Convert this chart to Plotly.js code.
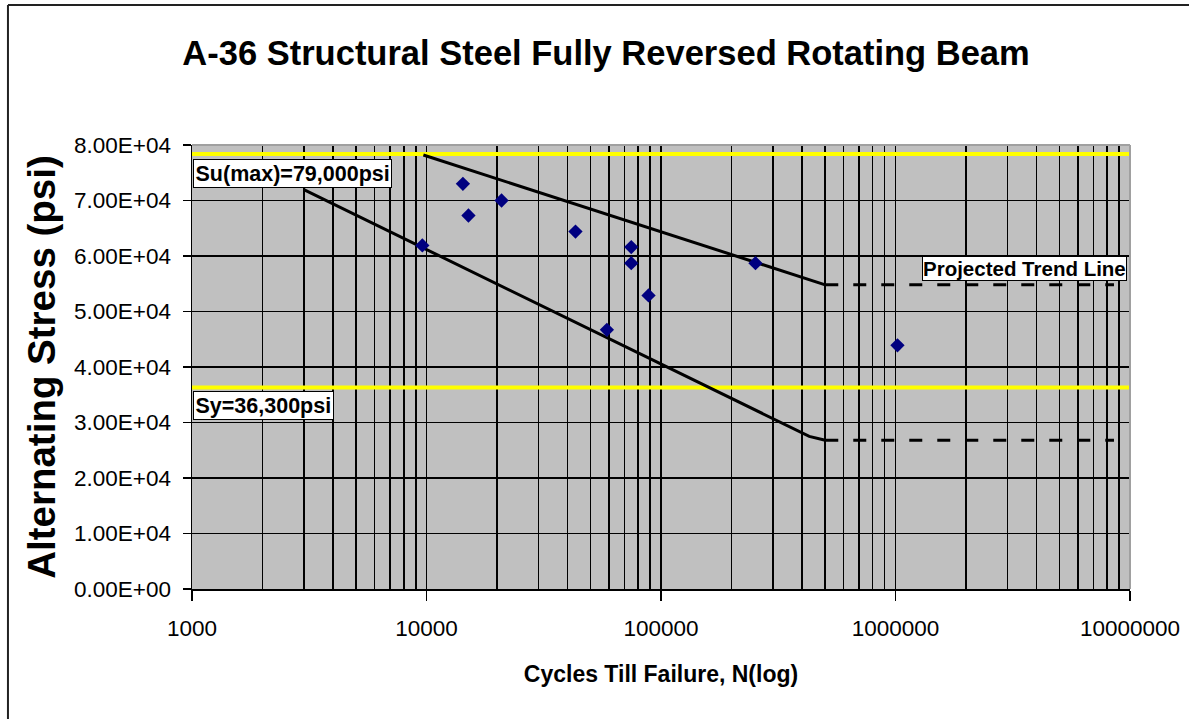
<!DOCTYPE html>
<html><head><meta charset="utf-8">
<script src="https://cdn.plot.ly/plotly-3.0.1.min.js"></script>
<style>html,body{margin:0;padding:0;background:#fff;} #chart{width:1189px;height:719px;}</style>
</head><body><div id="chart"></div>
<script>
// Test data points (cycles to failure, alternating stress psi)
const cycles = [9600, 14300, 15100, 20900, 43200, 58800, 74700, 74700, 88500, 253000, 1020000];
const stress = [61900, 73000, 67300, 70000, 64400, 46700, 61600, 58700, 52900, 58700, 43900];
// Trend lines
const upperTrendX = [9700, 502000];
const upperTrendY = [78200, 54800];
const lowerTrendX = [3000, 429000, 502000];
const lowerTrendY = [71950, 27500, 26800];
const upperProjX = [502000, 8550000];
const upperProjY = [54800, 54800];
const lowerProjX = [502000, 8550000];
const lowerProjY = [26800, 26800];
// Strength limit lines
const limitX = [1000, 10000000];
const suY = [78400, 78400];
const syY = [36300, 36300];
// Tick labels
const yTickVals = [0, 10000, 20000, 30000, 40000, 50000, 60000, 70000, 80000];
const yTickText = ['0.00E+00','1.00E+04','2.00E+04','3.00E+04','4.00E+04','5.00E+04','6.00E+04','7.00E+04','8.00E+04'];
const xTickVals = [1000, 10000, 100000, 1000000, 10000000];
const xTickText = ['1000','10000','100000','1000000','10000000'];

const sans = 'Liberation Sans, Arial, sans-serif';

const traces = [
  {x: limitX, y: suY, mode: 'lines', line: {color: '#FFFF00', width: 4}, hoverinfo: 'skip', showlegend: false},
  {x: limitX, y: syY, mode: 'lines', line: {color: '#FFFF00', width: 4}, hoverinfo: 'skip', showlegend: false},
  {x: upperTrendX, y: upperTrendY, mode: 'lines', line: {color: '#000', width: 3}, showlegend: false},
  {x: lowerTrendX, y: lowerTrendY, mode: 'lines', line: {color: '#000', width: 3}, showlegend: false},
  {x: upperProjX, y: upperProjY, mode: 'lines', line: {color: '#000', width: 3, dash: '13px,15px'}, showlegend: false},
  {x: lowerProjX, y: lowerProjY, mode: 'lines', line: {color: '#000', width: 3, dash: '13px,15px'}, showlegend: false},
  {x: cycles, y: stress, mode: 'markers', marker: {symbol: 'diamond', size: 11, color: '#000080'}, showlegend: false}
];

const layout = {
  width: 1189, height: 719,
  margin: {l: 192, r: 59, t: 145, b: 130},
  paper_bgcolor: '#ffffff',
  plot_bgcolor: '#C0C0C0',
  showlegend: false,
  title: {
    text: 'A-36 Structural Steel Fully Reversed Rotating Beam',
    font: {family: sans, size: 34.5, color: '#000', weight: 'bold'},
    xref: 'container', x: 0.5097, xanchor: 'center',
    yref: 'container', y: 0.927, yanchor: 'middle'
  },
  xaxis: {
    type: 'log', range: [3, 7.0003],
    tickmode: 'array', tickvals: xTickVals, ticktext: xTickText,
    ticks: 'outside', ticklen: 10, tickwidth: 1.5, tickcolor: '#000',
    ticklabelstandoff: 8,
    tickfont: {family: sans, size: 22.5, color: '#000'},
    showline: true, linecolor: '#000', linewidth: 1.5,
    showgrid: true, gridcolor: '#000', gridwidth: 1.5,
    minor: {dtick: 'D1', showgrid: true, gridcolor: '#000', gridwidth: 1.5, ticks: ''},
    zeroline: false,
    title: {text: 'Cycles Till Failure, N(log)', font: {family: sans, size: 23, color: '#000', weight: 'bold'}, standoff: 26}
  },
  yaxis: {
    range: [0, 80000],
    tickmode: 'array', tickvals: yTickVals, ticktext: yTickText,
    ticks: 'outside', ticklen: 8, tickwidth: 1.5, tickcolor: '#000',
    ticklabelstandoff: 7,
    tickfont: {family: sans, size: 22.5, color: '#000'},
    showline: true, linecolor: '#000', linewidth: 1.5,
    showgrid: true, gridcolor: '#000', gridwidth: 1.5,
    zeroline: false,
    title: {text: 'Alternating Stress (psi)', font: {family: sans, size: 38.5, color: '#000', weight: 'bold'}, standoff: 6}
  },
  annotations: [
    {text: 'Su(max)=79,000psi', xref: 'paper', x: 0.001, xanchor: 'left', yref: 'y', y: 74900, yanchor: 'middle',
     showarrow: false, bgcolor: '#fff', bordercolor: '#000', borderwidth: 1, borderpad: 1.5,
     font: {family: sans, size: 21.5, color: '#000', weight: 'bold'}},
    {text: 'Sy=36,300psi', xref: 'paper', x: 0.001, xanchor: 'left', yref: 'y', y: 33060, yanchor: 'middle',
     showarrow: false, bgcolor: '#fff', bordercolor: '#000', borderwidth: 1, borderpad: 1.5,
     font: {family: sans, size: 21.5, color: '#000', weight: 'bold'}},
    {text: 'Projected Trend Line', xref: 'paper', x: 0.997, xanchor: 'right', yref: 'y', y: 57750, yanchor: 'middle',
     showarrow: false, bgcolor: '#fff', bordercolor: '#000', borderwidth: 1, borderpad: 0,
     font: {family: sans, size: 20.5, color: '#000', weight: 'bold'}}
  ],
  shapes: [
    {type: 'line', xref: 'paper', yref: 'paper', x0: 0, x1: 1, y0: 1, y1: 1, line: {color: '#a0a0a0', width: 2}, layer: 'above'},
    {type: 'line', xref: 'paper', yref: 'paper', x0: 1, x1: 1, y0: 0, y1: 1, line: {color: '#a0a0a0', width: 2}, layer: 'above'},
    {type: 'line', xref: 'paper', yref: 'paper', x0: -0.1962, x1: 1.07, y0: 1.3153, y1: 1.3153, line: {color: '#222', width: 2}},
    {type: 'line', xref: 'paper', yref: 'paper', x0: -0.1962, x1: -0.1962, y0: 1.3153, y1: -0.3, line: {color: '#222', width: 2}}
  ]
};

Plotly.newPlot('chart', traces, layout, {displayModeBar: false, staticPlot: true});
</script>
</body></html>
